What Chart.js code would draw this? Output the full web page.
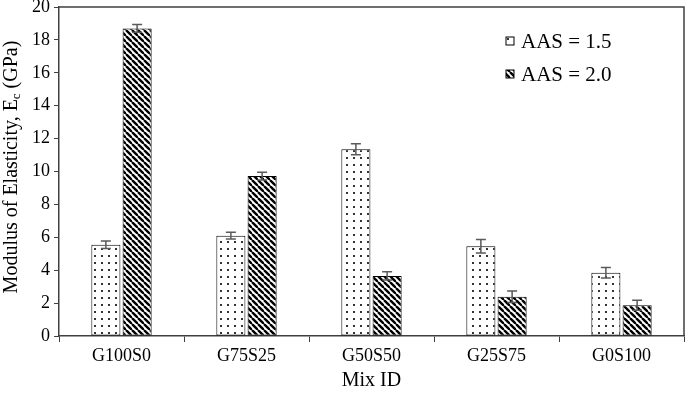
<!DOCTYPE html>
<html>
<head>
<meta charset="utf-8">
<script src="https://cdn.jsdelivr.net/npm/chart.js@4.4.1/dist/chart.umd.min.js"></script>
<style>
  html, body { margin: 0; padding: 0; background: #fff; }
  #wrap { width: 685px; height: 393px; }
</style>
</head>
<body>
<div id="wrap"><canvas id="chart" width="685" height="393"></canvas></div>
<script>
const categories = ["G100S0", "G75S25", "G50S50", "G25S75", "G0S100"];
const seriesNames = ["AAS = 1.5", "AAS = 2.0"];
const aas15 = [5.55, 6.1, 11.35, 5.45, 3.85];
const aas20 = [18.7, 9.72, 3.65, 2.38, 1.87];
const err15 = [0.23, 0.2, 0.33, 0.41, 0.32];
const err20 = [0.24, 0.24, 0.25, 0.35, 0.3];
const yTicks = [0, 2, 4, 6, 8, 10, 12, 14, 16, 18, 20];

const FONT = '"Liberation Serif", "Times New Roman", serif';
const AXIS = "#404040";

function dotPattern() {
  const c = document.createElement("canvas");
  c.width = 7; c.height = 7;
  const g = c.getContext("2d");
  g.fillStyle = "#fff";
  g.fillRect(0, 0, 7, 7);
  g.fillStyle = "#333";
  g.fillRect(3, 3, 2, 2);
  return g.createPattern(c, "repeat");
}

function hatchPattern() {
  const s = 6;
  const c = document.createElement("canvas");
  c.width = s; c.height = s;
  const g = c.getContext("2d");
  g.fillStyle = "#fff";
  g.fillRect(0, 0, s, s);
  g.strokeStyle = "#000";
  g.lineWidth = 2.4;
  for (let k = -s; k <= s; k += s) {
    g.beginPath();
    g.moveTo(k, 0);
    g.lineTo(k + s, s);
    g.stroke();
  }
  return g.createPattern(c, "repeat");
}

const dots = dotPattern();
const hatch = hatchPattern();
const errors = [err15, err20];

// error bars on top of each bar
const errorBars = {
  id: "errorBars",
  afterDatasetsDraw(chart) {
    const ctx = chart.ctx;
    const y = chart.scales.y;
    ctx.save();
    ctx.strokeStyle = "#5a5a5a";
    ctx.lineWidth = 1.5;
    chart.data.datasets.forEach((ds, di) => {
      chart.getDatasetMeta(di).data.forEach((bar, i) => {
        const v = ds.data[i], e = errors[di][i];
        const top = y.getPixelForValue(v + e);
        const bot = y.getPixelForValue(v - e);
        ctx.beginPath();
        ctx.moveTo(bar.x, top); ctx.lineTo(bar.x, bot);
        ctx.moveTo(bar.x - 5, top); ctx.lineTo(bar.x + 5, top);
        ctx.moveTo(bar.x - 5, bot); ctx.lineTo(bar.x + 5, bot);
        ctx.stroke();
      });
    });
    ctx.restore();
  }
};

// box round the plot, y title with subscript, legend inside the plot
const extras = {
  id: "extras",
  afterDraw(chart) {
    const ctx = chart.ctx;
    const a = chart.chartArea;
    ctx.save();
    ctx.strokeStyle = AXIS;
    ctx.lineWidth = 1.5;
    ctx.beginPath();
    ctx.moveTo(a.left, a.top);
    ctx.lineTo(a.right, a.top);
    ctx.lineTo(a.right, a.bottom);
    ctx.stroke();

    // y title
    const parts = [["Modulus of Elasticity, E", 20, 0], ["c", 13, 5], [" (GPa)", 20, 0]];
    let total = 0;
    parts.forEach(p => { ctx.font = p[1] + "px " + FONT; total += ctx.measureText(p[0]).width; });
    ctx.translate(12, 167);
    ctx.rotate(-Math.PI / 2);
    ctx.fillStyle = "#000";
    ctx.textBaseline = "middle";
    let x = -total / 2;
    parts.forEach(p => {
      ctx.font = p[1] + "px " + FONT;
      ctx.fillText(p[0], x, p[2]);
      x += ctx.measureText(p[0]).width;
    });
    ctx.restore();

    // legend
    ctx.save();
    ctx.font = "21px " + FONT;
    ctx.textBaseline = "middle";
    const lx = a.right - 178;
    chart.data.datasets.forEach((ds, i) => {
      const ly = 41 + i * 33;
      ctx.fillStyle = ds.backgroundColor;
      ctx.fillRect(lx, ly - 4, 8, 8);
      ctx.strokeStyle = "#000";
      ctx.lineWidth = 1;
      ctx.strokeRect(lx, ly - 4, 8, 8);
      ctx.fillStyle = "#000";
      ctx.fillText(ds.label, lx + 15, ly + 1);
    });
    ctx.restore();
  }
};

new Chart(document.getElementById("chart"), {
  type: "bar",
  data: {
    labels: categories,
    datasets: [
      { label: seriesNames[0], data: aas15, backgroundColor: dots, borderColor: "#000", borderWidth: 1, borderSkipped: false },
      { label: seriesNames[1], data: aas20, backgroundColor: hatch, borderColor: "#000", borderWidth: 1, borderSkipped: false }
    ]
  },
  options: {
    responsive: false,
    animation: false,
    layout: { padding: { top: 7, right: 1, left: 0, bottom: 0 } },
    datasets: { bar: { categoryPercentage: 0.5, barPercentage: 0.93 } },
    plugins: { legend: { display: false }, tooltip: { enabled: false } },
    scales: {
      x: {
        grid: { display: true, drawOnChartArea: false, drawTicks: true, tickLength: 6, color: AXIS, offset: true },
        border: { color: AXIS, width: 1.5 },
        ticks: { color: "#000", font: { family: FONT, size: 18 }, padding: 3, maxRotation: 0 },
        title: { display: true, text: "Mix ID", color: "#000", font: { family: FONT, size: 20 }, padding: { top: 0, bottom: 0 } },
        afterFit(s) { s.height = 57; s.paddingLeft = 0; s.paddingRight = 0; }
      },
      y: {
        min: 0, max: 20,
        afterBuildTicks(s) { s.ticks = yTicks.map(v => ({ value: v })); },
        grid: { display: true, drawOnChartArea: false, drawTicks: true, tickLength: 5, color: AXIS },
        border: { color: AXIS, width: 1.5 },
        ticks: { color: "#000", font: { family: FONT, size: 18 }, padding: 4 },
        afterFit(s) { s.width = 59; s.paddingTop = 0; s.paddingBottom = 0; }
      }
    }
  },
  plugins: [errorBars, extras]
});
</script>
</body>
</html>
